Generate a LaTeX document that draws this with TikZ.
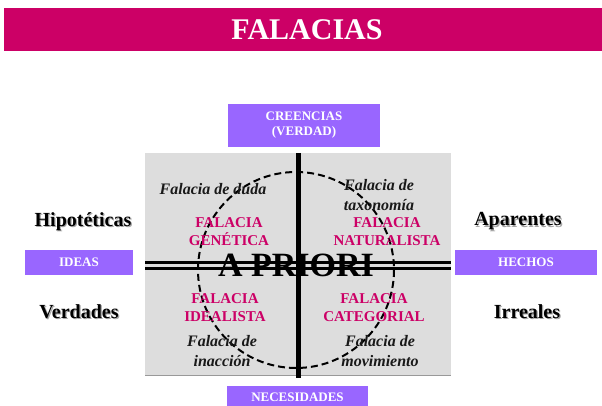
\documentclass[tikz,border=0pt]{standalone}
\usepackage{fontspec}
\setmainfont{Liberation Serif}
\definecolor{magbar}{HTML}{CC0066}
\definecolor{lila}{HTML}{9966FF}
\definecolor{panel}{HTML}{DDDDDD}
\definecolor{panelline}{HTML}{999999}
\newcommand{\shtext}[1]{\rlap{\textcolor{black!35}{\kern1.2pt\raisebox{-1.2pt}{#1}}}#1}
\tikzset{
  x=1pt, y=-1pt,
  lilabox/.style={fill=lila, text=white, font=\bfseries\fontsize{13}{15}\selectfont, inner sep=0pt, align=center},
  sidelabel/.style={font=\bfseries\fontsize{20}{24}\selectfont, text=black},
  falmag/.style={font=\bfseries\fontsize{15}{18}\selectfont, text=magbar, align=center},
  falit/.style={font=\bfseries\itshape\fontsize{16}{19.5}\selectfont, text=black!90, align=center},
}
\begin{document}
\begin{tikzpicture}
\useasboundingbox (0,0) rectangle (602,406);
% title bar
\fill[magbar] (4,8) rectangle (602,51);
\node[text=white, font=\bfseries\fontsize{30}{36}\selectfont] (title) at (307,30) {FALACIAS};
% purple boxes
\node[lilabox, minimum width=152pt, minimum height=43pt] (creencias) at (304,125.5) {CREENCIAS\\(VERDAD)};
\node[lilabox, minimum width=141pt, minimum height=22pt, anchor=north] (necesidades) at (297.5,386) {NECESIDADES};
\node[lilabox, minimum width=108pt, minimum height=25pt] (ideas) at (79,262.5) {IDEAS};
\node[lilabox, minimum width=142pt, minimum height=25pt] (hechos) at (526,262.5) {HECHOS};
% gray panel
\fill[panel] (145,153) rectangle (451,376);
\draw[panelline, line width=1pt] (145,375.5) -- (451,375.5);
% double horizontal line
\draw[line width=3pt] (145,262.5) -- (451,262.5);
\draw[line width=3pt] (145,268.5) -- (451,268.5);
% vertical line
\draw[line width=5pt] (298,153) -- (298,378);
% dashed circle
\draw[line width=2pt, dash pattern=on 7pt off 4pt] (296,270) circle [radius=98];
% center text
\node[font=\bfseries\fontsize{34}{40}\selectfont] (apriori) at (296,265) {A PRIORI};
% side labels
\node[sidelabel] (hipo) at (83,222) {\shtext{Hipotéticas}};
\node[sidelabel] (verd) at (79,312) {\shtext{Verdades}};
\node[sidelabel] (apar) at (518,222) {\shtext{Aparentes}};
\node[sidelabel] (irre) at (527,312) {\shtext{Irreales}};
% quadrant texts
\node[falit] (duda) at (213,189) {Falacia de duda};
\node[falmag] (genetica) at (229,232) {FALACIA\\GENÉTICA};
\node[falit] (taxo) at (379,195) {Falacia de\\taxonomía};
\node[falmag] (natural) at (387,232) {FALACIA\\NATURALISTA};
\node[falmag] (ideal) at (225,307.5) {FALACIA\\IDEALISTA};
\node[falmag] (categ) at (374,307.5) {FALACIA\\CATEGORIAL};
\node[falit] (inacc) at (222,351) {Falacia de\\inacción};
\node[falit] (movim) at (380,351) {Falacia de\\movimiento};
\end{tikzpicture}
\end{document}
